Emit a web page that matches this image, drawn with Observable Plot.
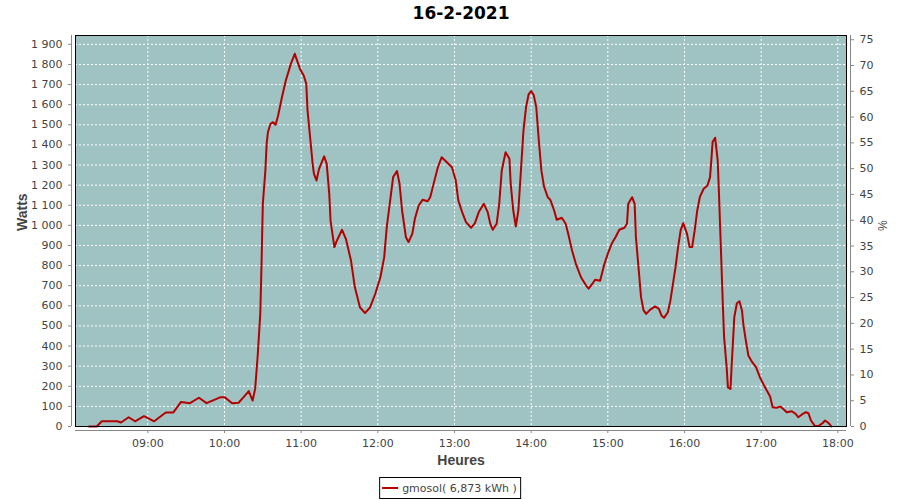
<!DOCTYPE html>
<html>
<head>
<meta charset="utf-8">
<script src="https://cdn.jsdelivr.net/npm/d3@7"></script>
<script src="https://cdn.jsdelivr.net/npm/@observablehq/plot@0.6"></script>
<style>
  html, body { margin: 0; padding: 0; background: white; }
  #wrap { position: relative; width: 900px; height: 500px; }
  #wrap svg { position: absolute; left: 0; top: 0; }
  #legend {
    position: absolute; top: 477px; left: 50%; transform: translateX(-50%);
    height: 20px; border: 1px solid #000; background: white;
    display: flex; align-items: center; padding: 0 3px 0 2px;
    font-family: "DejaVu Sans", sans-serif; font-size: 11px; color: #444; white-space: nowrap;
  }
  #legend .sw { width: 16px; height: 2px; margin-right: 4px; }
</style>
</head>
<body>
<div id="wrap"><div id="legend"></div></div>
<script>
const title = "16-2-2021";
const yLabel = "Watts";
const xLabel = "Heures";
const y2Label = "%";
const seriesName = "gmosol( 6,873 kWh )";
const lineColor = "#b40000";

const times = [
  "8:14","8:20","8:24","8:36","8:39","8:45","8:50","8:57",
  "9:05","9:14","9:20","9:26","9:33","9:40","9:46","9:57",
  "10:00","10:06","10:11","10:15","10:19","10:22","10:24","10:26","10:28","10:29","10:30","10:32","10:33","10:34","10:36","10:38","10:40","10:42","10:45","10:48","10:52","10:55","10:59",
  "11:02","11:04","11:05","11:07","11:09","11:10","11:12","11:14","11:18","11:20","11:22","11:23","11:26","11:28","11:32","11:35","11:39","11:42","11:46","11:50","11:54","11:58",
  "12:02","12:05","12:07","12:10","12:12","12:15","12:17","12:19","12:22","12:24","12:27","12:29","12:32","12:35","12:39","12:41","12:44","12:47","12:50","12:54","12:58",
  "13:01","13:03","13:06","13:09","13:13","13:16","13:19","13:23","13:26","13:28","13:30","13:33","13:35","13:37","13:40","13:43","13:44","13:46","13:48","13:50","13:52","13:54","13:56","13:58",
  "14:00","14:02","14:04","14:06","14:08","14:10","14:13","14:15","14:18","14:20","14:24","14:27","14:29","14:32","14:35","14:39","14:43","14:45","14:48","14:50","14:54","14:57",
  "15:00","15:03","15:06","15:09","15:13","15:15","15:16","15:19","15:21","15:22","15:24","15:26","15:28","15:30","15:33","15:37","15:40","15:42","15:44","15:47","15:49","15:51","15:53","15:55","15:57","15:59",
  "16:02","16:04","16:06","16:08","16:10","16:12","16:15","16:18","16:20","16:21","16:22","16:24","16:26","16:27","16:28","16:29","16:30","16:31","16:33","16:34","16:36","16:37","16:38","16:39","16:41","16:43","16:45","16:46","16:48","16:50","16:53","16:56","16:59",
  "17:03","17:07","17:09","17:12","17:15","17:18","17:20","17:24","17:27","17:29","17:32","17:35","17:37","17:39","17:42","17:45","17:48","17:50","17:53","17:55"
];
const watts = [
  0,0,26,26,20,46,26,52,
  26,70,70,122,116,143,116,146,
  146,116,118,146,176,129,187,353,560,809,1107,1273,1406,1463,1505,1513,1500,1546,1638,1720,1804,1853,1779,
  1745,1704,1571,1439,1306,1257,1223,1281,1343,1306,1157,1024,892,925,978,933,825,693,593,564,593,660,
  742,842,991,1140,1240,1270,1207,1074,941,917,958,1033,1099,1127,1120,1140,1215,1289,1339,1314,1289,
  1223,1124,1066,1016,988,1011,1066,1107,1066,1008,978,1008,1107,1273,1364,1331,1207,1074,995,1074,1273,1472,1588,1651,
  1668,1648,1588,1422,1273,1195,1140,1127,1074,1028,1038,1008,958,875,809,742,701,685,710,730,725,801,
  859,908,941,978,988,1008,1107,1140,1107,941,792,643,577,560,580,597,585,552,540,568,627,710,792,892,975,1011,
  958,892,892,975,1074,1140,1182,1198,1240,1323,1414,1436,1323,1157,975,792,610,444,295,195,187,312,428,544,613,623,577,511,428,353,320,295,245,
  195,149,96,93,99,83,71,76,63,46,60,71,66,30,3,3,16,30,16,0
];
const hourTicks = ["09:00","10:00","11:00","12:00","13:00","14:00","15:00","16:00","17:00","18:00"];
const wattTicks = [0,100,200,300,400,500,600,700,800,900,1000,1100,1200,1300,1400,1500,1600,1700,1800,1900];
const pctTicks = [0,5,10,15,20,25,30,35,40,45,50,55,60,65,70,75];
const wattMax = 1944;
const wattsPerPct = 25.64;

const parseT = s => { const [h, m, sec] = s.split(":").map(Number); return new Date(2021, 1, 16, h, m, sec || 0); };
const data = times.map((t, i) => ({t: parseT(t), w: watts[i]}));
const hourDates = hourTicks.map(parseT);
const xDomain = [parseT("8:03:24"), parseT("18:06:48")];

const loc = d3.formatLocale({decimal: ",", thousands: " ", grouping: [3], currency: ["", ""]});
const fmtW = loc.format(",d");

const gridStyle = {stroke: "white", strokeOpacity: 1, strokeWidth: 1, strokeDasharray: "2,2"};
const axisTitle = {fontFamily: "Liberation Sans, sans-serif", fontSize: 14, fontWeight: "bold", fill: "#444"};

const chart = Plot.plot({
  width: 900,
  height: 500,
  marginLeft: 75,
  marginRight: 54,
  marginTop: 35,
  marginBottom: 74,
  style: {fontFamily: "DejaVu Sans, sans-serif", fontSize: "11px", color: "#444", background: "white"},
  x: {type: "time", domain: xDomain},
  y: {domain: [0, wattMax]},
  marks: [
    Plot.frame({fill: "#9ec3c2", stroke: null}),
    Plot.gridX(hourDates, gridStyle),
    Plot.gridY(wattTicks, gridStyle),
    Plot.line(data, {x: "t", y: "w", stroke: lineColor, strokeWidth: 2}),
    Plot.frame({stroke: "black", strokeWidth: 1}),
    Plot.ruleY([0], {dy: 4, stroke: "#888"}),
    Plot.ruleX([xDomain[0]], {dx: -4, stroke: "#888"}),
    Plot.ruleX([xDomain[1]], {dx: 4, stroke: "#888"}),
    Plot.axisX(hourDates, {tickFormat: d3.timeFormat("%H:%M"), tickSize: 3, dy: 4, label: null, stroke: "#888", fill: "#444"}),
    Plot.axisY(wattTicks, {anchor: "left", tickFormat: fmtW, tickSize: 3, dx: -4, label: null, stroke: "#888", fill: "#444"}),
    Plot.axisY(pctTicks.map(p => p * wattsPerPct), {anchor: "right", tickFormat: d => String(Math.round(d / wattsPerPct)), tickSize: 3, dx: 4, label: null, stroke: "#888", fill: "#444"}),
    Plot.text([title], {frameAnchor: "top", dy: -22, lineAnchor: "middle", fontFamily: "DejaVu Sans, sans-serif", fontSize: 17, fontWeight: "bold", fill: "black"}),
    Plot.text([yLabel], {frameAnchor: "left", dx: -53, rotate: -90, lineAnchor: "middle", ...axisTitle}),
    Plot.text([y2Label], {frameAnchor: "right", dx: 35, rotate: 90, lineAnchor: "middle", ...axisTitle, fontWeight: "normal", fontSize: 12}),
    Plot.text([xLabel], {frameAnchor: "bottom", dy: 34, lineAnchor: "middle", ...axisTitle})
  ]
});
document.getElementById("wrap").prepend(chart);

const legend = document.getElementById("legend");
const sw = document.createElement("span");
sw.className = "sw";
sw.style.background = lineColor;
legend.appendChild(sw);
const lt = document.createElement("span");
lt.textContent = seriesName;
legend.appendChild(lt);
</script>
</body>
</html>
